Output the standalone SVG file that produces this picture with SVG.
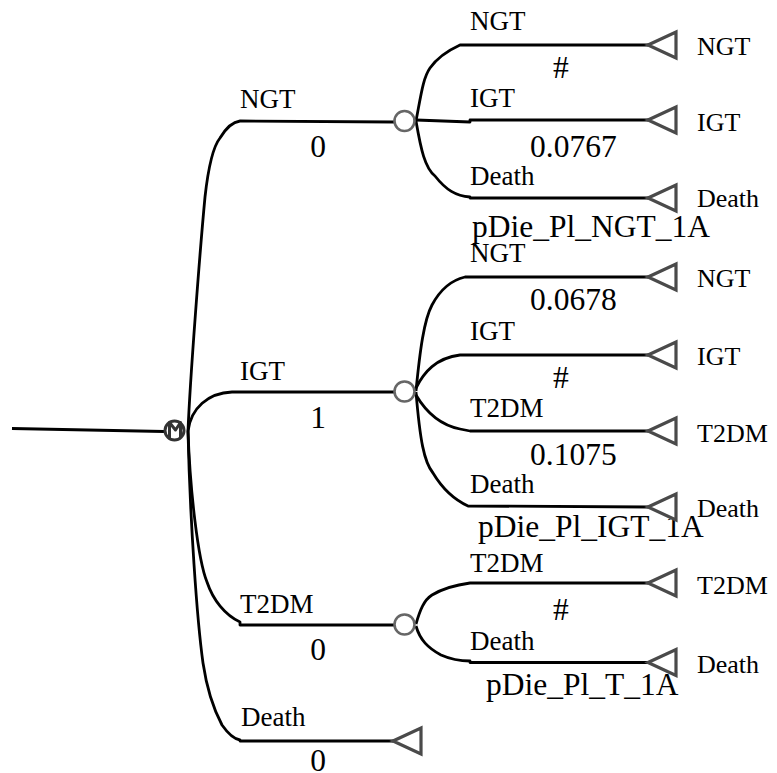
<svg xmlns="http://www.w3.org/2000/svg" xmlns:xlink="http://www.w3.org/1999/xlink" width="777" height="773" viewBox="0 0 777 773">
<style>
text{font-family:"Liberation Serif","Times New Roman",serif;fill:#000}
.n{font-size:27px}
.v{font-size:31.5px}
.t{font-size:26px}
.c{text-anchor:middle}
.ln{fill:none;stroke:#000;stroke-width:2.8;stroke-linejoin:round;stroke-linecap:butt}
.chance{fill:#fff;stroke:#666;stroke-width:2.6}
.term{fill:#fff;stroke:#4a4a4a;stroke-width:3.2;stroke-linejoin:miter}
</style>
<defs>
<path id="tri" d="M0,0 L28,-13 L28,13 Z"/>
</defs>
<rect width="777" height="773" fill="#fff"/>
<g id="connectors">
<line class="ln" x1="12" y1="428.5" x2="164" y2="431.5" stroke-width="2.2"/>
<path class="ln" d="M188,431 C190,380 200,250 205,197 C208,170 212,148 220,138 C226,128 232,122 240,121 L394,122"/>
<path class="ln" d="M188,431 C191,408 208,393 232,392 L394,392"/>
<path class="ln" d="M188,431 C190,490 198,560 207,582 C213,600 225,615 240,622 L240,625 L394,625"/>
<path class="ln" d="M188,431 C190,520 197,620 203,663 C207,690 214,710 222,725 C229,735 234,739 240,740 L240,741 L393,741"/>
<path class="ln" d="M416,121 C421,95 423,78 430,68 C437,58 447,51 460,45 L648,45"/>
<path class="ln" d="M416,120 L470,122 L470,120 L648,120"/>
<path class="ln" d="M416,121 C421,150 425,168 435,176 C446,190 456,196 470,197 L470,198 L648,198"/>
<path class="ln" d="M416,391 C420,350 424,320 432,305 C440,290 452,280 465,277 L648,277"/>
<path class="ln" d="M416,388 C424,372 436,358 460,355 L648,355"/>
<path class="ln" d="M416,395 C426,412 440,425 460,429 L470,431 L648,431"/>
<path class="ln" d="M416,392 C420,440 424,462 433,473 C442,488 455,500 468,506 L648,507"/>
<path class="ln" d="M416,624 C420,610 424,600 432,595 C442,589 455,585 470,583 L648,583"/>
<path class="ln" d="M416,626 C420,640 428,648 441,655 C450,659 460,661 470,661 L470,662.5 L648,662.5"/>
</g>
<g id="markov">
<circle cx="174.5" cy="430.5" r="9.5" fill="#fff" stroke="#333" stroke-width="3"/>
<path d="M169.5,439 L169.5,422.5 L175.5,430 L180.5,422.5 L180.5,437" fill="none" stroke="#333" stroke-width="3" stroke-linejoin="round"/>
</g>
<g id="branch-ngt">
<text class="n" x="240" y="108">NGT</text>
<text class="v c" x="318" y="157">0</text>
</g>
<g id="branch-igt">
<text class="n" x="240" y="380">IGT</text>
<text class="v c" x="318" y="428">1</text>
</g>
<g id="branch-t2dm">
<text class="n" x="240" y="613">T2DM</text>
<text class="v c" x="318" y="660">0</text>
</g>
<g id="branch-death">
<text class="n" x="241" y="726">Death</text>
<text class="v c" x="318" y="771">0</text>
<use href="#tri" class="term" x="393" y="741"/>
</g>
<g id="chance-ngt">
<circle class="chance" cx="404.5" cy="121" r="10"/>
<text class="n" x="470" y="30">NGT</text>
<text class="v" x="553" y="78">#</text>
<text class="n" x="470" y="107">IGT</text>
<text class="v" x="530" y="157">0.0767</text>
<text class="n" x="470" y="185">Death</text>
<text class="v" x="472" y="237">pDie_Pl_NGT_1A</text>
</g>
<g id="term-ngt-ngt"><use href="#tri" class="term" x="648" y="45"/><text class="t" x="697" y="55">NGT</text></g>
<g id="term-ngt-igt"><use href="#tri" class="term" x="648" y="120"/><text class="t" x="697" y="131">IGT</text></g>
<g id="term-ngt-death"><use href="#tri" class="term" x="648" y="198"/><text class="t" x="697" y="207">Death</text></g>
<g id="chance-igt">
<circle class="chance" cx="404.5" cy="391.5" r="10"/>
<text class="n" x="470" y="262">NGT</text>
<text class="v" x="530" y="310">0.0678</text>
<text class="n" x="470" y="340">IGT</text>
<text class="v" x="553" y="388">#</text>
<text class="n" x="470" y="417">T2DM</text>
<text class="v" x="530" y="465">0.1075</text>
<text class="n" x="470" y="493">Death</text>
<text class="v" x="478" y="537">pDie_Pl_IGT_1A</text>
</g>
<g id="term-igt-ngt"><use href="#tri" class="term" x="648" y="277"/><text class="t" x="697" y="287">NGT</text></g>
<g id="term-igt-igt"><use href="#tri" class="term" x="648" y="355"/><text class="t" x="697" y="365">IGT</text></g>
<g id="term-igt-t2dm"><use href="#tri" class="term" x="648" y="431"/><text class="t" x="697" y="442">T2DM</text></g>
<g id="term-igt-death"><use href="#tri" class="term" x="648" y="507"/><text class="t" x="697" y="517">Death</text></g>
<g id="chance-t2dm">
<circle class="chance" cx="404.5" cy="624.5" r="10"/>
<text class="n" x="470" y="572">T2DM</text>
<text class="v" x="553" y="620">#</text>
<text class="n" x="470" y="650">Death</text>
<text class="v" x="486" y="695">pDie_Pl_T_1A</text>
</g>
<g id="term-t2dm-t2dm"><use href="#tri" class="term" x="648" y="583"/><text class="t" x="697" y="594">T2DM</text></g>
<g id="term-t2dm-death"><use href="#tri" class="term" x="648" y="662.5"/><text class="t" x="697" y="673">Death</text></g>
</svg>
